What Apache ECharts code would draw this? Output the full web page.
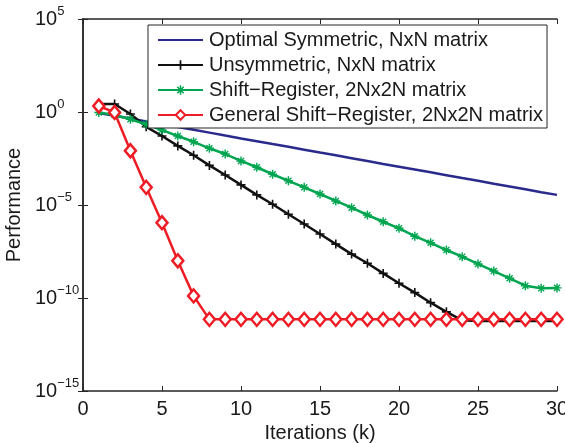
<!DOCTYPE html>
<html>
<head>
<meta charset="utf-8">
<script src="https://cdn.jsdelivr.net/npm/echarts@6/dist/echarts.min.js"></script>
<style>
html, body { margin: 0; padding: 0; background: #fff; }
#myChart { width: 565px; height: 443px; }
</style>
</head>
<body>
<div id="myChart"></div>
<script>
var iterations = [1, 2, 3, 4, 5, 6, 7, 8, 9, 10, 11, 12, 13, 14, 15, 16, 17, 18, 19, 20, 21, 22, 23, 24, 25, 26, 27, 28, 29, 30];

var optimalSymmetric = [0.89, 0.63, 0.45, 0.31, 0.22, 0.155, 0.11, 0.078, 0.054, 0.038,
	0.027, 0.019, 0.0134, 0.0094, 0.0066, 0.0047, 0.0033, 0.0023, 0.0016, 0.00115,
	8.1e-4, 5.7e-4, 4.0e-4, 2.8e-4, 2.0e-4, 1.4e-4, 1.0e-4, 7.0e-5, 4.9e-5, 3.5e-5];

var unsymmetric = [2.7, 2.7, 0.78, 0.16, 0.051, 0.015, 4.7e-3, 1.35e-3, 4.1e-4, 1.2e-4,
	3.5e-5, 1.1e-5, 3.2e-6, 9.5e-7, 2.75e-7, 7.9e-8, 2.3e-8, 7.4e-9, 2.1e-9, 6.2e-10,
	1.95e-10, 5.6e-11, 1.8e-11, 6.3e-12, 5.8e-12, 5.8e-12, 5.8e-12, 5.8e-12, 5.8e-12, 5.8e-12];

var shiftRegister = [0.95, 0.69, 0.41, 0.22, 0.107, 0.051, 0.025, 0.0112, 0.0055, 0.00234,
	0.00107, 4.5e-4, 2.0e-4, 8.9e-5, 3.9e-5, 1.66e-5, 7.2e-6, 2.9e-6, 1.26e-6, 5.6e-7,
	2.1e-7, 9.3e-8, 3.8e-8, 1.66e-8, 6.8e-9, 2.8e-9, 1.15e-9, 4.6e-10, 3.3e-10, 3.5e-10];

var generalShiftRegister = [2.1, 0.95, 8.3e-3, 8.9e-5, 1.12e-6, 1.0e-8, 1.3e-10, 7.1e-12, 7.1e-12, 7.1e-12,
	7.1e-12, 7.1e-12, 7.1e-12, 7.1e-12, 7.1e-12, 7.1e-12, 7.1e-12, 7.1e-12, 7.1e-12, 7.1e-12,
	7.1e-12, 7.1e-12, 7.1e-12, 7.1e-12, 7.1e-12, 7.1e-12, 7.1e-12, 7.1e-12, 7.1e-12, 7.1e-12];

var seriesNames = ['Optimal Symmetric, NxN matrix', 'Unsymmetric, NxN matrix',
	'Shift\u2212Register, 2Nx2N matrix', 'General Shift\u2212Register, 2Nx2N matrix'];

var xTicks = [0, 5, 10, 15, 20, 25, 30];
var yExponents = [-15, -10, -5, 0, 5];

var Chart = {};
Chart.font = 'Liberation Sans, Arial, Helvetica, sans-serif';
Chart.axisColor = '#262626';
Chart.textColor = '#1a1a1a';

Chart.pairs = function(values) {
	var out = [];
	for (var i = 0; i < iterations.length; i++) {
		out.push([iterations[i], values[i]]);
	}
	return out;
};

// plus and asterisk markers as filled paths
Chart.plusPath = 'path://M4.1,0H5.9V4.1H10V5.9H5.9V10H4.1V5.9H0V4.1H4.1Z';
Chart.starPath = 'path://M0,4.2H10V5.8H0Z M4.2,0H5.8V10H4.2Z M1.1,2.2L2.2,1.1L8.9,7.8L7.8,8.9Z M7.8,1.1L8.9,2.2L2.2,8.9L1.1,7.8Z';

Chart.yLabel = function(v) {
	var e = Math.round(Math.log10(v));
	var s = e < 0 ? '\u2212' + Math.abs(e) : '' + e;
	return '{b|10}{e|' + s + '}';
};

Chart.init = function() {
	var myChart = echarts.init(document.getElementById('myChart'));
	var axisLine = { show: true, lineStyle: { color: Chart.axisColor, width: 1.5 } };
	var axisTick = { show: true, inside: true, length: 5, lineStyle: { color: Chart.axisColor } };

	var option = {
		animation: false,
		textStyle: { fontFamily: Chart.font },
		grid: { left: 83, right: 8, top: 19, bottom: 52, containLabel: false, outerBoundsMode: 'none' },
		legend: {
			orient: 'vertical',
			left: 148,
			top: 25,
			padding: [5, 4, 3, 9],
			itemGap: 5,
			itemWidth: 45,
			itemHeight: 12,
			backgroundColor: '#fff',
			borderColor: Chart.axisColor,
			borderWidth: 1,
			textStyle: { fontSize: 20, color: Chart.textColor, fontFamily: Chart.font, padding: [0, 0, 0, 1] },
			data: [
				{ name: seriesNames[0], itemStyle: { opacity: 0 } },
				{ name: seriesNames[1] },
				{ name: seriesNames[2] },
				{ name: seriesNames[3] }
			]
		},
		xAxis: [{
			type: 'value',
			min: xTicks[0],
			max: xTicks[xTicks.length - 1],
			interval: 5,
			name: 'Iterations (k)',
			nameLocation: 'middle',
			nameGap: 27,
			nameTextStyle: { fontSize: 20, color: Chart.textColor },
			axisLine: axisLine,
			axisTick: axisTick,
			axisLabel: { fontSize: 20, color: Chart.textColor, margin: 8 },
			splitLine: { show: false }
		}, {
			type: 'value',
			position: 'top',
			min: xTicks[0],
			max: xTicks[xTicks.length - 1],
			interval: 5,
			axisLine: axisLine,
			axisTick: axisTick,
			axisLabel: { show: false },
			splitLine: { show: false }
		}],
		yAxis: [{
			type: 'log',
			logBase: 10,
			min: Math.pow(10, yExponents[0]),
			max: Math.pow(10, yExponents[yExponents.length - 1]),
			interval: 5,
			name: 'Performance',
			nameLocation: 'middle',
			nameGap: 56,
			nameTextStyle: { fontSize: 20, color: Chart.textColor },
			axisLine: axisLine,
			axisTick: axisTick,
			minorTick: { show: false },
			axisLabel: {
				margin: 48,
				align: 'left',
				formatter: Chart.yLabel,
				rich: {
					b: { fontSize: 20, color: Chart.textColor, fontFamily: Chart.font },
					e: { fontSize: 13, color: Chart.textColor, fontFamily: Chart.font, padding: [0, 0, 15, 0] }
				}
			},
			splitLine: { show: false }
		}, {
			type: 'log',
			logBase: 10,
			position: 'right',
			min: Math.pow(10, yExponents[0]),
			max: Math.pow(10, yExponents[yExponents.length - 1]),
			interval: 5,
			axisLine: axisLine,
			axisTick: axisTick,
			axisLabel: { show: false },
			splitLine: { show: false }
		}],
		series: [{
			name: seriesNames[0],
			type: 'line',
			data: Chart.pairs(optimalSymmetric),
			showSymbol: false,
			symbol: 'none',
			lineStyle: { color: '#2a2a8c', width: 2.5 },
			itemStyle: { color: '#2a2a8c' }
		}, {
			name: seriesNames[1],
			type: 'line',
			data: Chart.pairs(unsymmetric),
			symbol: Chart.plusPath,
			symbolSize: 9,
			lineStyle: { color: '#111', width: 2.5 },
			itemStyle: { color: '#111' }
		}, {
			name: seriesNames[2],
			type: 'line',
			data: Chart.pairs(shiftRegister),
			symbol: Chart.starPath,
			symbolSize: 9,
			lineStyle: { color: '#00a551', width: 2.5 },
			itemStyle: { color: '#00a551' }
		}, {
			name: seriesNames[3],
			type: 'line',
			data: Chart.pairs(generalShiftRegister),
			symbol: 'diamond',
			symbolSize: [11, 13],
			lineStyle: { color: '#ee1c25', width: 2.5 },
			itemStyle: { color: '#fff', borderColor: '#ee1c25', borderWidth: 2.5 }
		}]
	};
	myChart.setOption(option);
};

Chart.init();
</script>
</body>
</html>
